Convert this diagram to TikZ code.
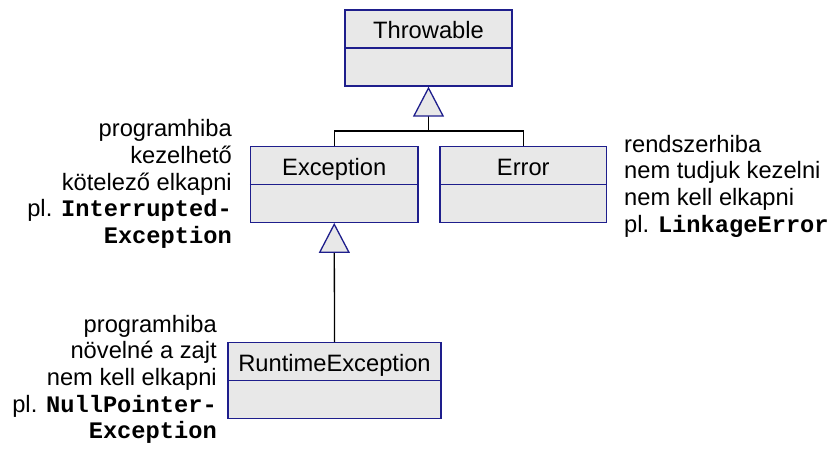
\documentclass[tikz,border=0pt]{standalone}
\usepackage{fontspec}
\setmainfont{Liberation Sans}
\setmonofont{Liberation Mono}
\usetikzlibrary{arrows.meta}
\definecolor{boxline}{HTML}{1E1E8C}
\definecolor{boxfill}{HTML}{E8E8E8}
\newcommand{\cd}[1]{{\ttfamily\bfseries #1}}
\begin{document}
\begin{tikzpicture}[x=1pt,y=-1pt,
  font=\fontsize{23.7pt}{26.7pt}\selectfont,
  cls/.style={draw=boxline, fill=boxfill, line width=1.3pt, minimum width=#1, inner sep=0pt, minimum height=75.5pt},
  title/.style={anchor=base, inner sep=0pt},
  lineR/.style={anchor=base east, inner sep=0pt},
  lineL/.style={anchor=base west, inner sep=0pt},
  conn/.style={draw=black, line width=1.3pt},
  inherit/.style={conn, -{Triangle[length=30pt, width=31pt, color=boxline, fill=boxfill, line width=1.3pt]}}
]
\useasboundingbox (0,0) rectangle (832,452);

% class boxes
\node[cls=167pt, minimum height=76pt] (thr) at (428.5,48) {};
\node[cls=167.5pt] (exc) at (334.25,184.5) {};
\node[cls=166.7pt] (err) at (523.3,184.5) {};
\node[cls=213pt] (rte) at (334.5,380.5) {};

\foreach \b in {thr,exc,err,rte}
  \draw[boxline, line width=1.3pt] (\b.west) -- (\b.east);

\node[title] (thrT) at ([yshift=-29.3pt]thr.north) {Throwable};
\node[title] (excT) at ([yshift=-29pt]exc.north) {Exception};
\node[title] (errT) at ([yshift=-29pt]err.north) {Error};
\node[title] (rteT) at ([yshift=-29pt]rte.north) {RuntimeException};

% connectors
\coordinate (jn) at (428.5,131);
\draw[conn] (exc.north) |- (err.north |- jn) -- (err.north);
\draw[inherit] (jn) -- (thr.south);
\draw[inherit] (rte.north) -- (exc.south);

% left notes (Exception)
\node[lineR] (a1) at (232,136.7) {programhiba};
\node[lineR] (a2) at (232,163.4) {kezelhető};
\node[lineR] (a3) at (232,190.1) {kötelező elkapni};
\node[lineR] (a4) at (232,216.8) {pl. \cd{Interrupted-}};
\node[lineR] (a5) at (232,243.5) {\cd{Exception}};

% right notes (Error)
\node[lineL] (b1) at (624,152) {rendszerhiba};
\node[lineL] (b2) at (624,178.7) {nem tudjuk kezelni};
\node[lineL] (b3) at (624,205.4) {nem kell elkapni};
\node[lineL] (b4) at (624,232.1) {pl. \cd{LinkageError}};

% bottom notes (RuntimeException)
\node[lineR] (c1) at (217,332) {programhiba};
\node[lineR] (c2) at (217,358.7) {növelné a zajt};
\node[lineR] (c3) at (217,385.4) {nem kell elkapni};
\node[lineR] (c4) at (217,412.1) {pl. \cd{NullPointer-}};
\node[lineR] (c5) at (217,438.8) {\cd{Exception}};
\end{tikzpicture}
\end{document}
